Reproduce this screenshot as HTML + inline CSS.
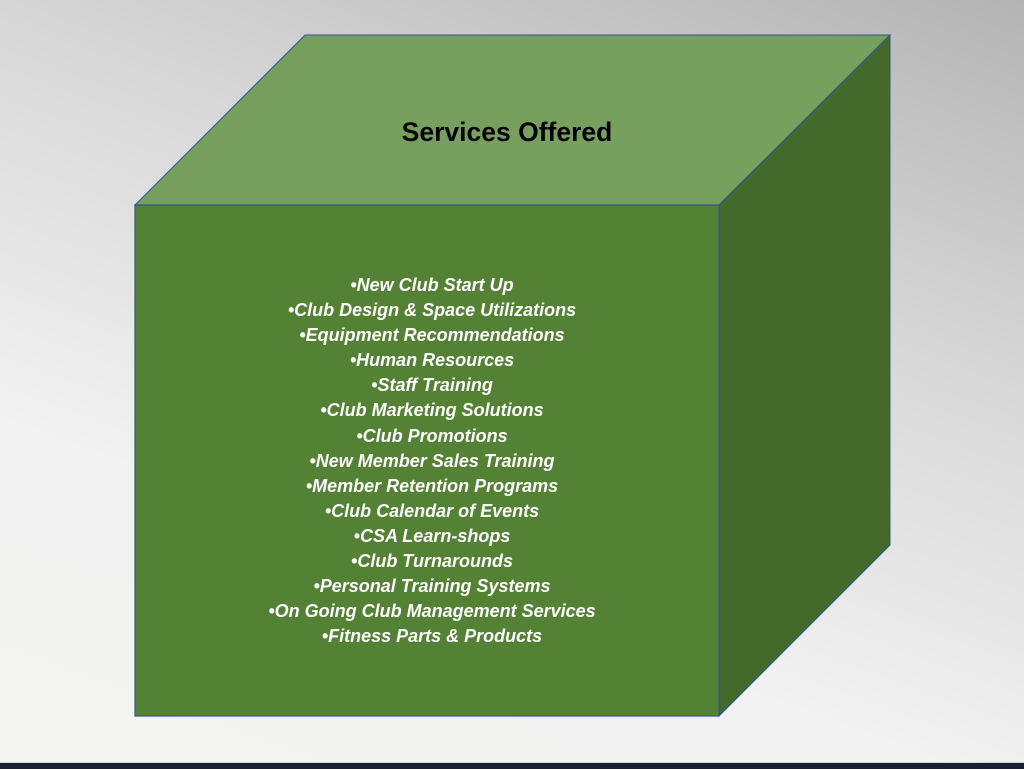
<!DOCTYPE html>
<html><head><meta charset="utf-8"><style>
html,body{margin:0;padding:0;}
body{width:1024px;height:768px;position:relative;overflow:hidden;
background:linear-gradient(200deg,#b4b4b4 0%,#d8d8d8 35%,#f2f2f2 70%,#f4f4f2 100%);}
svg{position:absolute;left:0;top:0;}
.t{position:absolute;left:135px;width:594px;text-align:center;color:#fff;
font-family:"Liberation Sans",sans-serif;font-weight:bold;font-style:italic;font-size:18px;line-height:25.1px;top:273px;}
.h{position:absolute;left:300px;width:414px;text-align:center;top:117px;
font-family:"Liberation Sans",sans-serif;font-weight:bold;font-size:26.5px;color:#000;}
.bar{position:absolute;left:0;top:762px;width:1024px;height:6px;background:#1b2030;border-top:1px solid #c8d4e8;}
</style></head><body>
<svg width="1024" height="768">
<polygon points="135,205 305,35 890,35 719,205" fill="#77a05e" stroke="#2f5597" stroke-width="1"/>
<polygon points="719,205 890,35 890,545 719,716" fill="#43692b" stroke="#2f5597" stroke-width="1"/>
<rect x="135" y="205" width="584" height="511" fill="#548235" stroke="#2f5597" stroke-width="1.2"/>
</svg>
<div class="h">Services Offered</div>
<div class="t">•New Club Start Up<br>•Club Design &amp; Space Utilizations<br>•Equipment Recommendations<br>•Human Resources<br>•Staff Training<br>•Club Marketing Solutions<br>•Club Promotions<br>•New Member Sales Training<br>•Member Retention Programs<br>•Club Calendar of Events<br>•CSA Learn-shops<br>•Club Turnarounds<br>•Personal Training Systems<br>•On Going Club Management Services<br>•Fitness Parts &amp; Products</div>
<div class="bar"></div>
</body></html>
